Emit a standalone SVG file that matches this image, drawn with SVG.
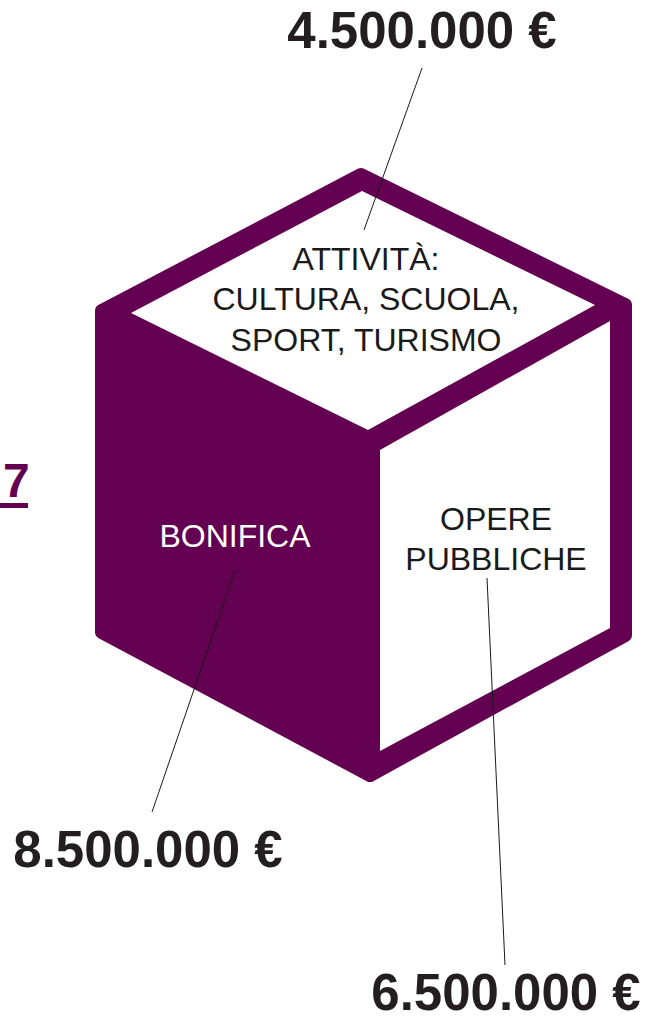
<svg xmlns="http://www.w3.org/2000/svg" width="648" height="1020" viewBox="0 0 648 1020">
<style>
.hex{fill:#640052;stroke:#640052;stroke-width:14;stroke-linejoin:round}
.face{fill:#ffffff}
.lbl{font-family:"Liberation Sans",Arial,sans-serif;font-size:32px;text-anchor:middle;fill:#1a1a1a}
.val{font-family:"Liberation Sans",Arial,sans-serif;font-size:51px;font-weight:bold;text-anchor:middle;fill:#231f20}
.lead{stroke:#1a1a1a;stroke-width:1;fill:none}
</style>
<rect width="648" height="1020" fill="#ffffff"/>
<g id="cut-title">
<text x="3" y="497" font-family="Liberation Sans, Arial, sans-serif" font-size="48" font-weight="bold" fill="#640052">7</text>
<rect x="0" y="503" width="28" height="5" fill="#640052"/>
</g>
<g id="cube">
<polygon class="hex" points="361,175 625,305 625,635 370,775 102,632 102,311"/>
<polygon id="top-face" class="face" points="362,191 131,313 368,430 595,305"/>
<polygon id="right-face" class="face" points="380,450 610,321 610,628 380,751"/>
</g>
<g id="connectors">
<line class="lead" x1="422" y1="68" x2="364" y2="230"/>
<line class="lead" x1="235" y1="570" x2="152" y2="812"/>
<line class="lead" x1="487" y1="578" x2="505" y2="965"/>
</g>
<g id="node-attivita">
<text class="lbl" x="366" y="270">ATTIVITÀ:</text>
<text class="lbl" x="366" y="310">CULTURA, SCUOLA,</text>
<text class="lbl" x="366" y="351">SPORT, TURISMO</text>
</g>
<g id="node-bonifica">
<text class="lbl" x="235" y="547" style="fill:#ffffff">BONIFICA</text>
</g>
<g id="node-opere">
<text class="lbl" x="496" y="530">OPERE</text>
<text class="lbl" x="496" y="570">PUBBLICHE</text>
</g>
<g id="value-attivita"><text class="val" x="422" y="48">4.500.000 €</text></g>
<g id="value-bonifica"><text class="val" x="148" y="867">8.500.000 €</text></g>
<g id="value-opere"><text class="val" x="506" y="1010">6.500.000 €</text></g>
</svg>
